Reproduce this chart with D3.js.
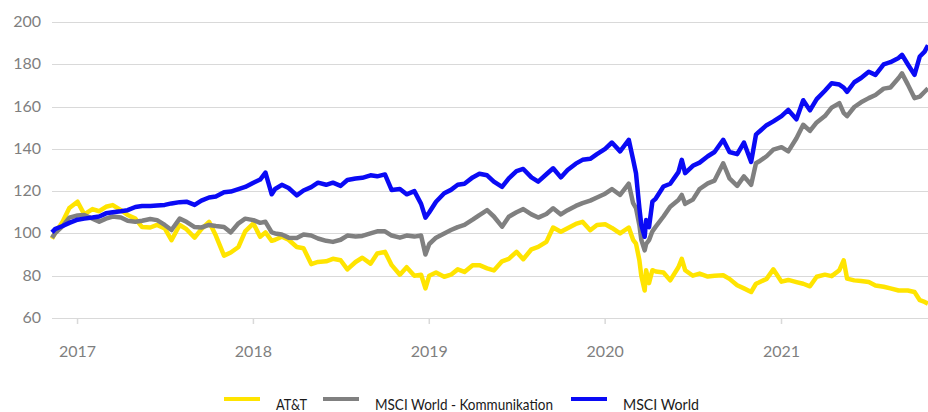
<!DOCTYPE html>
<html>
<head>
<meta charset="utf-8">
<script src="https://cdn.jsdelivr.net/npm/d3@7"></script>
<style>
  html, body { margin: 0; padding: 0; background: #fff; }
  svg { display: block; font-family: Lato, "Open Sans", sans-serif; }
</style>
</head>
<body>
<svg id="chart"></svg>
<script>
// Datum der Beobachtung (ungefähr halbmonatlich, plus markante Tage)
const dates = [
  "2016-11-09","2016-11-15","2016-12-01","2016-12-15",
  "2017-01-01","2017-01-15","2017-02-01","2017-02-15","2017-03-01","2017-03-15","2017-04-01","2017-04-15",
  "2017-05-01","2017-05-15","2017-06-01","2017-06-15","2017-07-01","2017-07-15","2017-08-01","2017-08-15",
  "2017-09-01","2017-09-15","2017-10-01","2017-10-15","2017-11-01","2017-11-15","2017-12-01","2017-12-15",
  "2018-01-01","2018-01-15","2018-01-26","2018-02-08","2018-02-15","2018-03-01","2018-03-15","2018-04-01",
  "2018-04-15","2018-05-01","2018-05-15","2018-06-01","2018-06-15","2018-07-01","2018-07-15","2018-08-01",
  "2018-08-15","2018-09-01","2018-09-15","2018-10-01","2018-10-15","2018-11-01","2018-11-15","2018-12-01",
  "2018-12-15","2018-12-24","2019-01-01","2019-01-15","2019-02-01","2019-02-15","2019-03-01","2019-03-15",
  "2019-04-01","2019-04-15","2019-05-01","2019-05-15","2019-06-01","2019-06-15","2019-07-01","2019-07-15",
  "2019-08-01","2019-08-15","2019-09-01","2019-09-15","2019-10-01","2019-10-15","2019-11-01","2019-11-15",
  "2019-12-01","2019-12-15","2020-01-01","2020-01-15","2020-02-01","2020-02-19","2020-02-28","2020-03-05",
  "2020-03-12","2020-03-16","2020-03-23","2020-03-26","2020-04-01","2020-04-08","2020-04-15","2020-05-01",
  "2020-05-15","2020-06-01","2020-06-08","2020-06-15","2020-07-01","2020-07-15","2020-08-01","2020-08-15",
  "2020-09-02","2020-09-15","2020-10-01","2020-10-15","2020-10-30","2020-11-09","2020-11-15","2020-12-01",
  "2020-12-15","2021-01-01","2021-01-15","2021-02-01","2021-02-15","2021-03-01","2021-03-15","2021-04-01",
  "2021-04-15","2021-05-01","2021-05-10","2021-05-17","2021-06-01","2021-06-15","2021-07-01","2021-07-15",
  "2021-08-01","2021-08-15","2021-09-01","2021-09-08","2021-09-20","2021-10-04","2021-10-15","2021-10-25",
  "2021-11-01"
];

const att = [
  97.5,100,105.5,112,
  115,109,111.5,110.5,112.6,113.4,111,108.7,
  107,103,102.8,104,102.4,96.8,104,102,
  98,102,105.5,99,89.5,91,93.6,101,
  104.7,98.4,100.5,96.5,97,98.4,97,93.6,
  93,85.5,86.5,86.8,88,87.3,83,86.5,
  88.5,85.7,90.5,91.3,85,80.5,84,80,
  80.5,74,80,81.5,79.5,80.5,83,81.8,
  85,85,83.5,82.5,86.8,88,91.3,87.8,
  92.5,93.6,96,102.8,100.8,102.5,104.5,105.5,
  101.5,104,104.3,102.6,100,102.8,97,95.2,
  87.3,80,73,82.6,76.5,82.6,82,81.5,
  77.8,84,88,82.6,80,81,79.6,80,
  80.2,78.5,75.5,74,72.3,76.2,76.8,78.5,
  83,77.2,78,77,76.2,75,79.5,80.5,
  79.8,82.6,87.3,78.6,77.8,77.5,77,75.4,
  74.8,74,73,73,73,72.3,68.4,67.6,
  66.8
];

const kommunikation = [
  98,100,103.5,107.5,
  108.5,108.7,107,105.5,107,108,107.5,106,
  105.5,106,106.8,106.3,104,101.6,107,105.5,
  103,102.8,104,103.5,103,100.5,104.8,107,
  106.3,105,105.5,100.5,100,99.5,98,97.8,
  99.5,99,97.6,96.5,96,97,99,98.6,
  98.8,100,101,101,99,98,99,98.5,
  99,90,95,98,100,101.6,103,104,
  106.5,108.7,111,108,103.2,107.9,110,111.5,
  109,107.5,109.2,111.9,109,111,113,114.3,
  115.5,117,118.8,121,118.2,123.5,114.3,112,
  104,97,92,95,96.8,101,103.2,108,
  112.6,115.8,118.2,114,116,121,123.7,125,
  133.2,126,122.5,127,123,133.2,134,136.5,
  139.6,140.8,138.8,145,151.4,148.5,152.5,155.5,
  159.5,161.6,157,155.5,159.8,162,164,165.5,
  168.5,169,173.5,175.7,170.5,164,164.7,167,
  168.6
];

const world = [
  100.5,102,103.5,105,
  106.5,107,107.5,108,109.5,110,110.5,111,
  112.5,113,113,113.2,113.5,114.2,114.8,115,
  113.5,115.5,117,117.5,119.5,119.8,121,122,
  124,125.5,128.8,118.5,121,123,121.5,118,
  120.3,121.9,124,123,124,122.5,125.3,126,
  126.3,127.5,127,127.9,120.5,121,118.5,120,
  114,107.5,110,115,119,120.6,123,123.5,
  126.5,128.2,127.5,124.5,122,126,129.5,130.5,
  126.5,124.5,128,130.8,126.5,130,133,134.8,
  135.3,137.5,140,143,138.8,144.3,135,128.5,
  112,104,98.4,106.3,103,115,116.5,122.2,
  123.5,129,134.8,128.5,132,133.5,136.5,138.5,
  144.3,138.5,137.5,143,133.8,146.7,148,151.2,
  153,155.5,158.4,154,163,158.2,163.5,167.5,
  171,170.4,169,167,171.5,173.5,176.5,175,
  180,181,183,184.5,180,175,183.7,186,
  189
];

const seriesNames = ["AT&T", "MSCI World - Kommunikation", "MSCI World"];
const seriesColors = ["#ffe400", "#808080", "#0a0af5"];
const yTicks = [60, 80, 100, 120, 140, 160, 180, 200];
const yearTicks = ["2017-01-01", "2018-01-01", "2019-01-01", "2020-01-01", "2021-01-01"];

const width = 928, height = 412;
const margin = { top: 22, right: 0, bottom: 94, left: 52 };

const parse = d3.timeParse("%Y-%m-%d");
const dateObjs = dates.map(parse);

const svg = d3.select("#chart").attr("width", width).attr("height", height);

const x = d3.scaleTime()
  .domain(d3.extent(dateObjs))
  .range([margin.left, width - margin.right]);
const y = d3.scaleLinear()
  .domain([60, 200])
  .range([height - margin.bottom, margin.top]);

// Gitterlinien + y-Beschriftung
const yAxis = svg.append("g");
yAxis.selectAll("line").data(yTicks).join("line")
  .attr("x1", margin.left).attr("x2", width - margin.right)
  .attr("y1", d => Math.round(y(d)) + 0.5).attr("y2", d => Math.round(y(d)) + 0.5)
  .attr("stroke", "#d9d9d9").attr("stroke-width", 1.2);
yAxis.selectAll("text").data(yTicks).join("text")
  .attr("x", 41).attr("y", d => y(d) + 1)
  .attr("text-anchor", "end").attr("dominant-baseline", "middle")
  .attr("fill", "#7f7f7f").attr("font-size", 16)
  .text(d => d);

// x-Achse: Jahresmarken
const xAxis = svg.append("g");
const yearDates = yearTicks.map(parse);
xAxis.selectAll("line").data(yearDates).join("line")
  .attr("x1", d => x(d)).attr("x2", d => x(d))
  .attr("y1", y(60)).attr("y2", y(60) + 6)
  .attr("stroke", "#d9d9d9").attr("stroke-width", 1.5);
xAxis.selectAll("text").data(yearDates).join("text")
  .attr("x", d => x(d)).attr("y", 357)
  .attr("text-anchor", "middle")
  .attr("fill", "#7f7f7f").attr("font-size", 16)
  .text(d => d3.timeFormat("%Y")(d));

// Linien
const line = d3.line()
  .x((d, i) => x(dateObjs[i]))
  .y(d => y(d));

[att, kommunikation, world].forEach((vals, k) => {
  svg.append("path")
    .datum(vals)
    .attr("fill", "none")
    .attr("stroke", seriesColors[k])
    .attr("stroke-width", 4.5)
    .attr("stroke-linejoin", "round")
    .attr("d", line);
});

// Legende
const legendX = [224, 323, 571];
const legendW = [31, 178, 76];
const legend = svg.append("g");
seriesNames.forEach((name, k) => {
  legend.append("line")
    .attr("x1", legendX[k]).attr("x2", legendX[k] + 36)
    .attr("y1", 399).attr("y2", 399)
    .attr("stroke", seriesColors[k]).attr("stroke-width", 4);
  legend.append("text")
    .attr("x", legendX[k] + 52).attr("y", 410)
    .attr("fill", "#1a1a1a").attr("font-size", 15)
    .attr("textLength", legendW[k]).attr("lengthAdjust", "spacingAndGlyphs")
    .text(name);
});
</script>
</body>
</html>
